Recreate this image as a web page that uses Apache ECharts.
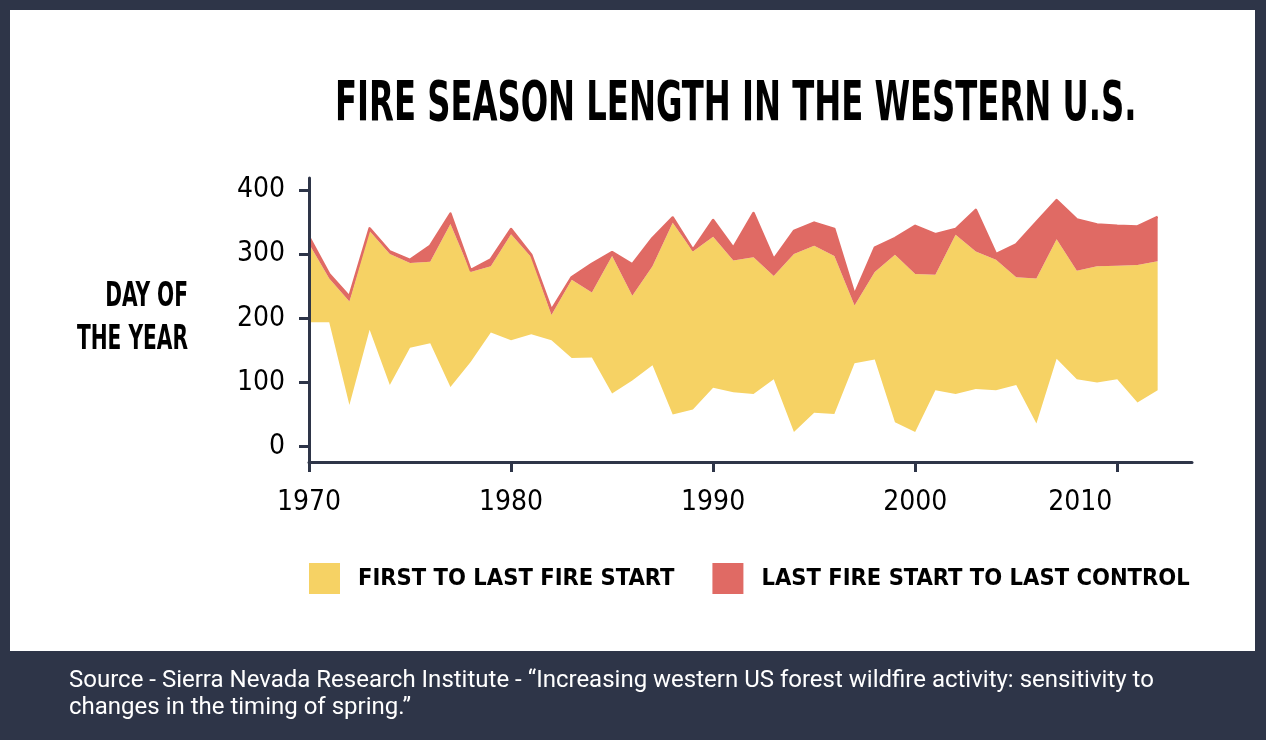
<!DOCTYPE html>
<html>
<head>
<meta charset="utf-8">
<script src="https://cdn.jsdelivr.net/npm/echarts@6/dist/echarts.min.js"></script>
<style>
html,body{margin:0;padding:0;background:#2e3548;}
#panel{position:absolute;left:10px;top:10px;width:1245px;height:641px;background:#ffffff;}
#chart{position:absolute;left:0;top:0;width:1266px;height:740px;}
</style>
</head>
<body>
<div id="panel"></div>
<div id="chart"></div>
<script>
const years = [1970,1971,1972,1973,1974,1975,1976,1977,1978,1979,1980,1981,1982,1983,1984,1985,1986,1987,1988,1989,1990,1991,1992,1993,1994,1995,1996,1997,1998,1999,2000,2001,2002,2003,2004,2005,2006,2007,2008,2009,2010,2011,2012];
const firstFireStart = [194,194,65,182,96,154,161,93,132,178,166,175,166,138,139,83,103,127,50,58,92,85,82,105,23,53,51,130,136,38,23,88,82,90,88,96,36,137,105,100,105,69,88];
const lastFireStart = [316,262,226,336,300,286,288,347,272,281,331,295,205,260,240,297,235,281,349,304,327,290,295,266,300,313,297,220,272,299,269,268,330,304,291,264,262,323,274,281,282,283,289];
const lastControl = [327,269,234,340,304,291,313,363,275,292,339,299,213,264,285,303,284,325,357,307,353,310,364,292,336,349,339,237,310,325,344,331,339,369,300,315,350,384,354,346,344,343,358];
const yTicks = [0,100,200,300,400];
const xTicks = [1970,1980,1990,2000,2010];
const seriesNames = ['FIRST TO LAST FIRE START','LAST FIRE START TO LAST CONTROL'];
const titleText = 'FIRE SEASON LENGTH IN THE WESTERN U.S.';
const yName = 'DAY OF\nTHE YEAR';
const sourceText = 'Source - Sierra Nevada Research Institute - \u201cIncreasing western US forest wildfire activity: sensitivity to\nchanges in the timing of spring.\u201d';

const COND = "'DejaVu Sans Condensed','Liberation Sans Narrow',sans-serif";
const NAVY = '#2e3548';
const YELLOW = '#f6d264';
const RED = '#e06a64';

// rows are [value, year]; encode maps column 1 to x and column 0 to y so the stack runs on y
const baseData = years.map((y,i)=>[firstFireStart[i], y]);
const yellowData = years.map((y,i)=>[lastFireStart[i]-firstFireStart[i], y]);
const redData = years.map((y,i)=>[lastControl[i]-lastFireStart[i], y]);
const enc = {x:1, y:0};

const chart = echarts.init(document.getElementById('chart'));
chart.setOption({
  backgroundColor: 'transparent',
  animation: false,
  graphic: [{
    type:'text', x:335, y:106, scaleX:0.652, silent:true,
    style:{text:titleText, fontFamily:COND, fontWeight:'bold', fontSize:55, fill:'#000', textAlign:'left', textVerticalAlign:'middle'}
  },{
    type:'text', x:188, y:319, scaleX:0.68, silent:true,
    style:{text:yName, fontFamily:COND, fontWeight:'bold', fontSize:33, lineHeight:43, fill:'#000', textAlign:'right', textVerticalAlign:'middle'}
  }],
  title: [{
    text: sourceText,
    left: 69, top: 667, padding: 0,
    textStyle:{fontFamily:'Roboto',fontWeight:'normal',fontSize:24,lineHeight:27,color:'#ffffff'}
  }],
  legend: {
    data: seriesNames,
    left: 309, top: 563, padding: 0,
    icon: 'rect',
    itemWidth: 31, itemHeight: 31,
    itemGap: 38,
    textStyle:{fontFamily:COND,fontWeight:'bold',fontSize:23.5,color:'#000',padding:[0,0,0,13]}
  },
  grid: {left:309, right:74, top:178, bottom:278, containLabel:false},
  xAxis: {
    type:'value', min:1970, max:2013.7, z:10,
    splitLine:{show:false},
    axisLine:{show:true,onZero:false,lineStyle:{color:NAVY,width:3}},
    axisTick:{show:true,length:10,customValues:xTicks,lineStyle:{color:NAVY,width:3}},
    axisLabel:{
      customValues:xTicks, margin:27,
      fontFamily:COND, fontSize:28, color:'#000',
      formatter:function(v){ return v===2010 ? '{s|'+v+'}' : '{n|'+v+'}'; },
      rich:{
        n:{fontFamily:COND,fontSize:28,color:'#000'},
        s:{fontFamily:COND,fontSize:28,color:'#000',padding:[0,74,0,0]}
      }
    }
  },
  yAxis: {
    type:'value', min:-23.8, max:418.5, z:10,
    splitLine:{show:false},
    axisLine:{show:true,onZero:false,lineStyle:{color:NAVY,width:3}},
    axisTick:{show:true,length:10,customValues:yTicks,lineStyle:{color:NAVY,width:3}},
    axisLabel:{customValues:yTicks,margin:24,fontFamily:COND,fontSize:28,color:'#000'}
  },
  series: [{
    name:'base', type:'line', stack:'season', data:baseData, encode:enc,
    showSymbol:false, symbol:'none', silent:true,
    lineStyle:{width:0,opacity:0}
  },{
    name:seriesNames[0], type:'line', stack:'season', data:yellowData, encode:enc,
    showSymbol:false, symbol:'none', itemStyle:{color:YELLOW},
    lineStyle:{width:0,color:YELLOW}, areaStyle:{color:YELLOW,opacity:1}
  },{
    name:seriesNames[1], type:'line', stack:'season', data:redData, encode:enc,
    showSymbol:false, symbol:'none', itemStyle:{color:RED},
    lineStyle:{width:2.5,color:RED,join:'round'}, areaStyle:{color:RED,opacity:1}
  }]
});
</script>
</body>
</html>
